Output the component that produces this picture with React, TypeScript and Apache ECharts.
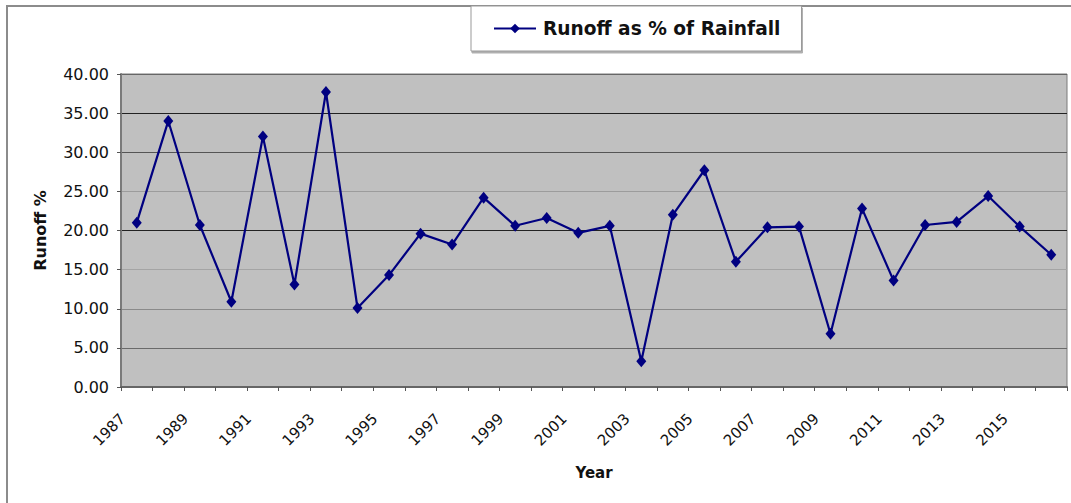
import React, { useEffect, useRef } from "react";
import * as echarts from "echarts";

const years = [
  "1987", "1988", "1989", "1990", "1991", "1992", "1993", "1994", "1995", "1996",
  "1997", "1998", "1999", "2000", "2001", "2002", "2003", "2004", "2005", "2006",
  "2007", "2008", "2009", "2010", "2011", "2012", "2013", "2014", "2015", "2016",
];

const runoffPct = [
  21.0, 34.0, 20.7, 10.9, 32.0, 13.1, 37.7, 10.1, 14.3, 19.6,
  18.2, 24.2, 20.6, 21.6, 19.7, 20.6, 3.3, 22.0, 27.7, 16.0,
  20.4, 20.5, 6.8, 22.8, 13.6, 20.7, 21.1, 24.4, 20.5, 16.9,
];

const seriesName = "Runoff as % of Rainfall";
const yAxisTitle = "Runoff %";
const xAxisTitle = "Year";
const yMin = 0;
const yMax = 40;
const yStep = 5;

// split line colours for 0,5,10,...,40 (mimicking the reference's uneven grid lines)
const gridLineColors = ["#666", "#6a6a6a", "#8a8a8a", "#a4a4a4", "#222", "#9c9c9c", "#555", "#222", "#666"];

export default function App() {
  const ref = useRef<HTMLDivElement>(null);
  useEffect(() => {
    const chart = echarts.init(ref.current as HTMLDivElement, null, { renderer: "svg" });
    const font = "DejaVu Sans";
    chart.setOption({
      animation: false,
      backgroundColor: "#ffffff",
      graphic: [
        {
          type: "rect",
          z: -10,
          shape: { x: 7, y: 6, width: 1100, height: 600 },
          style: { fill: "none", stroke: "#8c8c8c", lineWidth: 2 },
        },
      ],
      legend: {
        left: 471,
        top: 6,
        padding: [13, 21, 13, 22],
        backgroundColor: "#ffffff",
        borderColor: "#999",
        borderWidth: 1,
        shadowColor: "#b0b0b0",
        shadowOffsetX: 1,
        shadowOffsetY: 2,
        shadowBlur: 0,
        itemWidth: 42,
        itemHeight: 12,
        itemGap: 10,
        textStyle: { fontFamily: font, fontWeight: "bold", fontSize: 18.6, color: "#111", padding: [0, 0, 0, 2] },
        data: [seriesName],
      },
      grid: {
        left: 121,
        top: 74,
        right: 4,
        bottom: 116,
        show: true,
        backgroundColor: "#c0c0c0",
        borderColor: "#7a7a7a",
        borderWidth: 1,
      },
      xAxis: {
        type: "category",
        data: years,
        boundaryGap: true,
        name: xAxisTitle,
        nameLocation: "middle",
        nameGap: 78,
        nameTextStyle: { fontFamily: font, fontWeight: "bold", fontSize: 15, color: "#111" },
        axisLine: { show: true, lineStyle: { color: "#666", width: 2 } },
        axisTick: { show: true, interval: 0, length: 4, lineStyle: { color: "#555" } },
        axisLabel: {
          interval: 1,
          rotate: 45,
          margin: 15,
          padding: [0, 20, 0, 0],
          fontFamily: font,
          fontSize: 15,
          color: "#111",
        },
        splitLine: { show: false },
      },
      yAxis: {
        type: "value",
        min: yMin,
        max: yMax,
        interval: yStep,
        name: yAxisTitle,
        nameLocation: "middle",
        nameRotate: 90,
        nameGap: 73,
        nameTextStyle: { fontFamily: font, fontWeight: "bold", fontSize: 16, color: "#111" },
        axisLine: { show: true, lineStyle: { color: "#7a7a7a", width: 2 } },
        axisTick: { show: true, length: 4, lineStyle: { color: "#555" } },
        axisLabel: {
          margin: 12,
          fontFamily: font,
          fontSize: 16,
          color: "#111",
          formatter: (v: number) => v.toFixed(2),
        },
        splitLine: { show: true, lineStyle: { color: gridLineColors, width: 1 } },
      },
      series: [
        {
          name: seriesName,
          type: "line",
          data: runoffPct,
          color: "#000080",
          lineStyle: { color: "#000080", width: 2.2 },
          itemStyle: { color: "#000080" },
          symbol: "diamond",
          symbolSize: [10, 12],
          showSymbol: true,
        },
      ],
    });
    return () => chart.dispose();
  }, []);
  return (
    <div
      ref={ref}
      style={{ position: "fixed", left: 0, top: 0, width: 1071, height: 503, background: "#fff" }}
    />
  );
}
